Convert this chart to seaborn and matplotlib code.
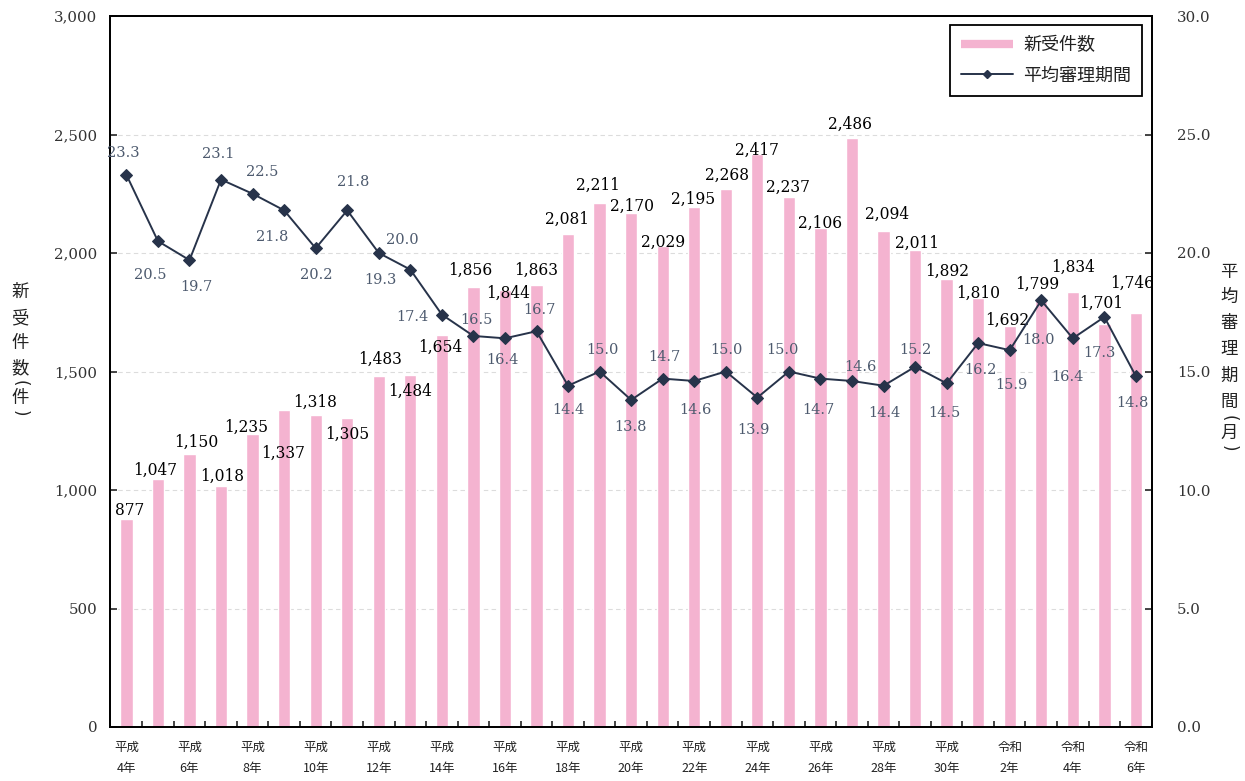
import matplotlib
matplotlib.use("Agg")
import matplotlib.pyplot as plt
import seaborn as sns
import pandas as pd
import numpy as np
from matplotlib.lines import Line2D
from matplotlib.ticker import FuncFormatter, FixedLocator, MultipleLocator

# ---- data -------------------------------------------------------------
eras = ["平成"] * 28 + ["令和"] * 5
era_years = list(range(4, 32)) + list(range(2, 7))
new_cases = [877, 1047, 1150, 1018, 1235, 1337, 1318, 1305, 1483, 1484,
             1654, 1856, 1844, 1863, 2081, 2211, 2170, 2029, 2195, 2268,
             2417, 2237, 2106, 2486, 2094, 2011, 1892, 1810, 1692, 1799,
             1834, 1701, 1746]
avg_months = [23.3, 20.5, 19.7, 23.1, 22.5, 21.8, 20.2, 21.8, 20.0, 19.3,
              17.4, 16.5, 16.4, 16.7, 14.4, 15.0, 13.8, 14.7, 14.6, 15.0,
              13.9, 15.0, 14.7, 14.6, 14.4, 15.2, 14.5, 16.2, 15.9, 18.0,
              16.4, 17.3, 14.8]

# label nudges (pixels, right / down) so values do not collide
bar_label_nudge = [(3.5, -9), (-3, -9), (7, -12), (1, -9), (-6, -7), (-1, 43),
                   (-1, -12), (0, 17), (1, -16), (0, 16), (-2, 12), (-3, -17),
                   (3, 3), (0, -15), (-1, -14), (-2, -18), (1, -6), (0, -4),
                   (-1, -7), (1, -14), (0, -4), (-1, -10), (0, -5), (-2, -13),
                   (4, -16), (2, -7), (0, -7), (0, -5), (-3, -6), (-4, -16),
                   (0, -25), (-3, -21), (-4, -30)]
line_label_nudge = [(-3, -22), (-8, 34), (7, 27), (-3, -26), (10, -22), (-12, 27),
                    (1, 27), (6, -28), (24, -13), (-30, 10), (-30, 2), (3, -16),
                    (-3, 22), (3, -21), (0, 24), (3, -21), (-1, 27), (2, -22),
                    (1, 29), (1, -21), (-4, 32), (-6, -21), (-2, 31), (8, -14),
                    (1, 27), (0, -17), (-2, 30), (2, 27), (2, 35), (-3, 40),
                    (-5, 39), (-5, 36), (-3, 27)]

labels = [f"{e}{y}年" for e, y in zip(eras, era_years)]
pos = np.arange(len(labels))
df = pd.DataFrame({"year": labels, "pos": pos,
                   "cases": new_cases, "months": avg_months})

# ---- style ------------------------------------------------------------
sns.set_style("white")
CJK = "Noto Sans CJK JP"
SERIF = "DejaVu Serif"
plt.rcParams["font.family"] = [SERIF, CJK]
plt.rcParams["axes.unicode_minus"] = False

BAR = "#f4b3d0"
LINE = "#27334a"
NUM = "#000000"
LNUM = "#4d5a6e"

W, H = 1245, 781
fig = plt.figure(figsize=(W / 100, H / 100), dpi=100)
ax = fig.add_axes([110 / W, 1 - 727 / H, (1152 - 110) / W, (727 - 16) / H])

sns.barplot(data=df, x="year", y="cases", order=labels, color=BAR,
            width=0.39, saturation=1, ax=ax, zorder=2)
ax.set_xlim(-0.52, len(labels) - 0.49)
ax.set_ylim(0, 3000)
ax.set_xlabel("")
ax.set_ylabel("")
ax.set_axisbelow(True)
ax.yaxis.set_major_locator(MultipleLocator(500))
ax.yaxis.set_major_formatter(FuncFormatter(lambda v, p: f"{v:,.0f}"))
ax.yaxis.grid(True, color="#dcdcdc", linestyle=(0, (4, 3)), linewidth=0.8)
ax.xaxis.grid(False)

ax2 = ax.twinx()
sns.lineplot(data=df, x="pos", y="months", ax=ax2, color=LINE, linewidth=1.4,
             marker="D", markersize=6.5, markeredgecolor=LINE,
             markerfacecolor=LINE, zorder=4)
ax2.set_ylim(0, 30)
ax2.set_xlim(ax.get_xlim())
ax2.set_ylabel("")
ax2.set_xlabel("")
ax2.yaxis.set_major_locator(MultipleLocator(5))
ax2.yaxis.set_major_formatter(FuncFormatter(lambda v, p: f"{v:.1f}"))

for a in (ax, ax2):
    for s in a.spines.values():
        s.set_color("black")
        s.set_linewidth(1.3)
        s.set_visible(True)

ax.tick_params(axis="y", direction="in", length=5, width=1.2, pad=9,
               labelsize=10.8, labelcolor="#333333", left=True)
ax2.tick_params(axis="y", direction="in", length=5, width=1.2, pad=18,
                labelsize=10.8, labelcolor="#333333", right=True)
for t in ax.get_yticklabels() + ax2.get_yticklabels():
    t.set_fontfamily(SERIF)

# x axis: labels every second year, small ticks between bars
tick_pos = pos[::2]
ax.xaxis.set_major_locator(FixedLocator(tick_pos))
ax.set_xticklabels([f"{eras[i]}\n{era_years[i]}年" for i in tick_pos],
                   fontfamily=CJK, fontsize=9, color="#222222",
                   linespacing=1.85)
ax.xaxis.set_minor_locator(FixedLocator(pos[:-1] + 0.5))
ax.tick_params(axis="x", which="major", length=0, pad=10)
ax.tick_params(axis="x", which="minor", direction="in", length=4, width=1.2,
               bottom=True)
ax2.tick_params(axis="x", which="both", bottom=False, top=False,
                labelbottom=False)

# value labels
for i, (v, (dx, dy)) in enumerate(zip(new_cases, bar_label_nudge)):
    ax.annotate(f"{v:,}", (pos[i], v), xytext=(dx, -dy),
                textcoords="offset pixels", ha="center", va="center",
                fontsize=11.2, color=NUM, fontfamily=SERIF, zorder=6)
for i, (v, (dx, dy)) in enumerate(zip(avg_months, line_label_nudge)):
    ax2.annotate(f"{v:.1f}", (pos[i], v), xytext=(dx, -dy),
                 textcoords="offset pixels", ha="center", va="center",
                 fontsize=10.5, color=LNUM, fontfamily=SERIF, zorder=6)


# vertical axis titles, one character per row; brackets turned sideways
def vertical_title(x, rows):
    for ch, y in rows:
        if ch in "()":
            fig.text(x / W, 1 - y / H, ch, ha="center", va="center",
                     rotation=-90, fontsize=12, fontfamily="DejaVu Sans",
                     color="#222222", rotation_mode="anchor")
        else:
            fig.text(x / W, 1 - y / H, ch, ha="center", va="center",
                     fontsize=12.5, fontfamily=CJK, color="#222222")


vertical_title(20, [("新", 292), ("受", 318), ("件", 343), ("数", 368),
                    ("(", 383), ("件", 398), (")", 413)])
vertical_title(1229, [("平", 272), ("均", 297), ("審", 323), ("理", 349),
                      ("期", 376), ("間", 402), ("(", 418), ("月", 433),
                      (")", 448)])

# legend
handles = [Line2D([], [], color=BAR, linewidth=6, solid_capstyle="butt"),
           Line2D([], [], color=LINE, linewidth=1.4, marker="D",
                  markersize=4.5)]
leg = ax2.legend(handles, ["新受件数", "平均審理期間"], loc="upper right",
                 bbox_to_anchor=(0.9904, 0.987), borderaxespad=0,
                 frameon=True, fancybox=False, edgecolor="black",
                 framealpha=1, handlelength=2.9, borderpad=0.6,
                 labelspacing=0.7, handletextpad=0.55,
                 prop={"family": CJK, "size": 13})
leg.get_frame().set_linewidth(1.3)
for t in leg.get_texts():
    t.set_color("#222222")

fig.savefig("out.png", dpi=100)
